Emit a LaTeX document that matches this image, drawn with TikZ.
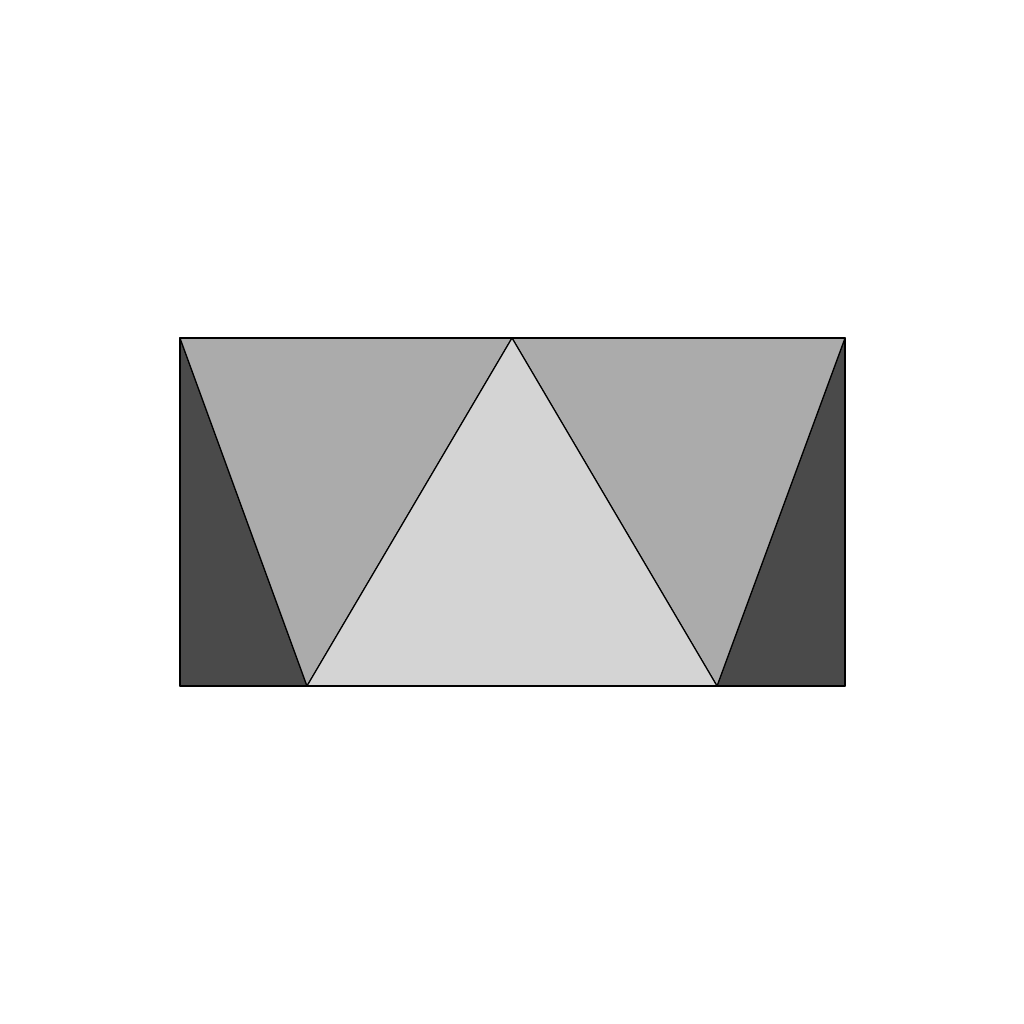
\documentclass[tikz,border=0pt]{standalone}
\begin{document}
\begin{tikzpicture}[x=1pt,y=-1pt,
  face/.style={draw=black,line width=1.2pt,line join=round},
  darkc/.style={face,fill=black!71},
  midc/.style={face,fill=black!33},
  lightc/.style={face,fill=black!17}]
\useasboundingbox (0,0) rectangle (1024,1024);
\coordinate (TL) at (180,338);
\coordinate (TR) at (845,338);
\coordinate (BL) at (180,686);
\coordinate (BR) at (845,686);
\coordinate (A) at (512,338);
\coordinate (P) at (307,686);
\coordinate (Q) at (717,686);
\draw[darkc] (TL) -- (BL) -- (P) -- cycle;
\draw[darkc] (TR) -- (BR) -- (Q) -- cycle;
\draw[midc] (TL) -- (A) -- (P) -- cycle;
\draw[midc] (A) -- (TR) -- (Q) -- cycle;
\draw[lightc] (P) -- (A) -- (Q) -- cycle;
\draw[face] (TL) rectangle (BR);
\end{tikzpicture}
\end{document}
